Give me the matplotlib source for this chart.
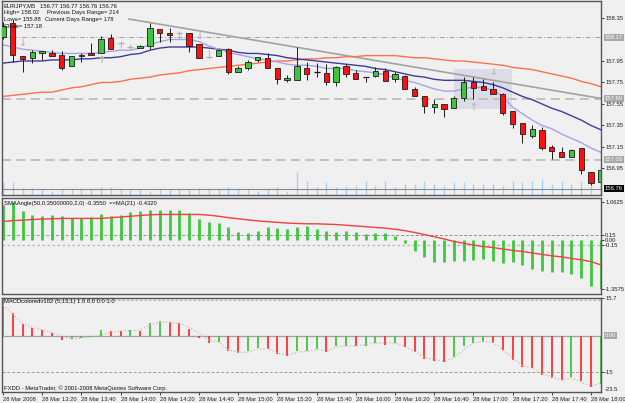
import matplotlib
matplotlib.use('Agg')
import matplotlib.pyplot as plt
import numpy as np
from matplotlib.patches import Rectangle

plt.rcParams['font.family'] = ['Liberation Sans', 'DejaVu Sans']

# ---------------- data ----------------
opens = [158.17, 158.30, 158.00, 157.98, 158.02, 158.02, 158.01, 157.90, 158.00, 158.02,
         158.02, 158.16, 158.12, 158.08, 158.07, 158.09, 158.25, 158.21, 158.21, 158.21,
         158.11, 157.99, 158.00, 158.06, 157.85, 157.88, 157.96, 157.98, 157.88, 157.77,
         157.77, 157.88, 157.85, 157.84, 157.75, 157.90, 157.84, 157.80, 157.81, 157.86,
         157.78, 157.81, 157.69, 157.62, 157.52, 157.55, 157.51, 157.61, 157.75, 157.72,
         157.69, 157.64, 157.48, 157.37, 157.25, 157.31, 157.15, 157.10, 157.06, 157.14,
         156.92, 156.82]
highs = [158.31, 158.33, 158.00, 158.05, 158.04, 158.05, 158.04, 158.00, 158.02, 158.12,
         158.18, 158.20, 158.14, 158.11, 158.10, 158.30, 158.25, 158.26, 158.23, 158.21,
         158.11, 158.05, 158.06, 158.07, 157.90, 157.96, 157.99, 158.02, 157.88, 157.82,
         158.08, 157.94, 157.93, 157.92, 157.90, 157.92, 157.87, 157.80, 157.89, 157.88,
         157.85, 157.82, 157.71, 157.62, 157.60, 157.55, 157.62, 157.80, 157.80, 157.78,
         157.75, 157.65, 157.48, 157.37, 157.35, 157.34, 157.17, 157.15, 157.13, 157.14,
         156.92, 156.94]
lows = [158.15, 157.94, 157.85, 157.93, 157.96, 158.00, 157.87, 157.90, 157.94, 158.01,
        158.02, 158.06, 158.07, 158.05, 158.07, 158.06, 158.13, 158.13, 158.16, 158.03,
        157.98, 157.97, 158.00, 157.83, 157.85, 157.87, 157.94, 157.88, 157.74, 157.75,
        157.77, 157.77, 157.80, 157.73, 157.72, 157.80, 157.78, 157.75, 157.80, 157.76,
        157.75, 157.69, 157.62, 157.47, 157.47, 157.43, 157.51, 157.58, 157.60, 157.68,
        157.64, 157.45, 157.33, 157.19, 157.23, 157.12, 157.04, 157.06, 157.06, 156.90,
        156.80, 156.82]
closes = [158.28, 158.01, 157.97, 158.03, 158.04, 158.00, 157.88, 158.00, 158.01, 158.01,
          158.15, 158.06, 158.12, 158.08, 158.09, 158.26, 158.21, 158.19, 158.21, 158.09,
          157.98, 157.99, 158.05, 157.85, 157.88, 157.94, 157.99, 157.88, 157.78, 157.79,
          157.90, 157.83, 157.85, 157.75, 157.89, 157.83, 157.78, 157.80, 157.86, 157.76,
          157.83, 157.69, 157.62, 157.53, 157.55, 157.50, 157.61, 157.75, 157.70, 157.68,
          157.64, 157.47, 157.36, 157.27, 157.32, 157.14, 157.11, 157.06, 157.12, 156.94,
          156.81, 156.94]
ghost_doji_bars = [12, 13, 18, 21]

volumes = [130, 130, 67, 67, 60, 43, 60, 60, 67, 67,
           77, 77, 60, 60, 60, 43, 60, 60, 67, 60,
           67, 67, 67, 77, 67, 60, 43, 67, 77, 43,
           230, 145, 77, 127, 77, 93, 93, 143, 93, 143,
           77, 110, 110, 143, 110, 93, 127, 127, 110, 110,
           110, 93, 143, 127, 143, 160, 110, 143, 110, 143,
           127, 93]

ma_fast = [158.10, 158.08, 158.06, 158.05, 158.04, 158.03, 158.02, 158.02, 158.02, 158.02,
           158.03, 158.04, 158.05, 158.05, 158.07, 158.10, 158.13, 158.15, 158.15, 158.15,
           158.13, 158.09, 158.06, 158.03, 158.01, 157.99, 157.97, 157.96, 157.94, 157.92,
           157.91, 157.91, 157.90, 157.88, 157.88, 157.88, 157.86, 157.85, 157.84, 157.82,
           157.79, 157.77, 157.75, 157.72, 157.69, 157.67, 157.67, 157.69, 157.71, 157.70,
           157.68, 157.62, 157.52, 157.46, 157.40, 157.35, 157.32, 157.27, 157.23, 157.19,
           157.14, 157.10]
ma_mid = [157.93, 157.94, 157.95, 157.95, 157.95, 157.96, 157.96, 157.96, 157.97, 157.97,
          157.98, 157.98, 157.99, 158.01, 158.02, 158.05, 158.07, 158.08, 158.08, 158.08,
          158.08, 158.07, 158.06, 158.05, 158.03, 158.02, 158.02, 158.01, 158.00, 157.98,
          157.97, 157.96, 157.95, 157.94, 157.93, 157.92, 157.91, 157.90, 157.88, 157.87,
          157.85, 157.83, 157.81, 157.80, 157.78, 157.77, 157.77, 157.77, 157.76, 157.75,
          157.73, 157.70, 157.66, 157.62, 157.59, 157.55, 157.51, 157.48, 157.44, 157.40,
          157.35, 157.31]
ma_slow = [157.62, 157.63, 157.64, 157.65, 157.66, 157.66, 157.68, 157.70, 157.71, 157.73,
           157.75, 157.75, 157.76, 157.78, 157.79, 157.80, 157.82, 157.83, 157.84, 157.86,
           157.87, 157.88, 157.89, 157.90, 157.91, 157.92, 157.93, 157.94, 157.95, 157.95,
           157.96, 157.97, 157.97, 157.98, 157.98, 157.99, 157.99, 158.00, 158.00, 158.00,
           158.00, 157.99, 157.98, 157.98, 157.97, 157.96, 157.95, 157.95, 157.94, 157.93,
           157.92, 157.91, 157.89, 157.88, 157.87, 157.85, 157.83, 157.81, 157.79, 157.76,
           157.74, 157.71]

trend_bars = [12.86, 61.1]
trend_prices = [158.34, 157.60]
box_bars = [46.0, 51.9]
box_prices = [157.50, 157.875]
level_prices = [158.17, 157.60, 157.03]
bid_price = 156.76
fractal_down_bars = [2, 20, 50]
fractal_down_prices = [158.12, 158.18, 157.85]
fractal_up_bars = [10, 48]
fractal_up_prices = [157.96, 157.52]

sma_angle = [0.98, 1.06, 0.81, 0.69, 0.67, 0.69, 0.67, 0.60, 0.60, 0.65,
             0.71, 0.67, 0.69, 0.79, 0.81, 0.83, 0.83, 0.83, 0.83, 0.74,
             0.57, 0.50, 0.46, 0.37, 0.23, 0.19, 0.26, 0.35, 0.32, 0.30,
             0.37, 0.39, 0.31, 0.26, 0.23, 0.25, 0.21, 0.17, 0.19, 0.19,
             0.11, -0.09, -0.30, -0.46, -0.60, -0.60, -0.58, -0.57, -0.56, -0.54,
             -0.57, -0.63, -0.60, -0.69, -0.81, -0.85, -0.90, -0.88, -0.95, -1.06,
             -1.27, -1.36]
sma_angle_ma = [0.51, 0.54, 0.55, 0.57, 0.58, 0.59, 0.60, 0.60, 0.60, 0.60,
                0.60, 0.62, 0.64, 0.66, 0.68, 0.70, 0.71, 0.71, 0.71, 0.71,
                0.71, 0.69, 0.66, 0.62, 0.59, 0.56, 0.53, 0.51, 0.49, 0.47,
                0.46, 0.45, 0.45, 0.44, 0.43, 0.41, 0.39, 0.37, 0.35, 0.33,
                0.30, 0.26, 0.21, 0.15, 0.09, 0.03, -0.04, -0.09, -0.14, -0.18,
                -0.21, -0.25, -0.29, -0.32, -0.36, -0.40, -0.44, -0.47, -0.51, -0.55,
                -0.60, -0.69]
angle_levels = [0.15, -0.15]

macd = [15.7, 9.4, 4.9, 3.2, 2.5, 1.1, -1.9, -1.4, -1.0, -0.3,
        2.5, 2.2, 2.1, 2.3, 2.2, 5.3, 6.25, 5.7, 5.3, 2.9,
        -1.0, -2.9, -2.4, -6.5, -7.2, -6.5, -4.9, -5.4, -7.5, -8.6,
        -6.5, -6.4, -5.6, -6.8, -4.4, -4.2, -4.4, -4.2, -2.8, -3.75,
        -2.8, -4.7, -6.8, -9.7, -10.4, -11.0, -9.0, -4.4, -2.8, -2.4,
        -2.8, -6.1, -10.0, -13.0, -13.5, -16.25, -17.6, -18.6, -17.4, -19.0,
        -21.4, -20.0]
macd_signal = [13.0, 9.2, 4.9, 3.5, 2.5, 1.4, -0.3, -1.25, -1.0, -0.55,
               0.4, 1.5, 2.1, 2.1, 2.5, 4.6, 5.7, 5.7, 5.3, 3.6,
               1.1, -2.0, -2.6, -5.8, -6.9, -6.9, -5.6, -5.3, -7.2, -8.2,
               -6.9, -6.5, -5.8, -6.25, -4.7, -4.2, -4.2, -3.75, -3.0, -3.0,
               -3.0, -4.4, -6.5, -9.0, -10.0, -10.7, -9.3, -5.8, -3.0, -2.4,
               -2.8, -5.6, -9.3, -12.5, -13.5, -15.8, -17.2, -18.6, -17.6, -19.3,
               -21.1, -19.7]
macd_levels = [15, -15]

time_labels = ['28 Mar 2008', '28 Mar 13:20', '28 Mar 13:40', '28 Mar 14:00',
               '28 Mar 14:20', '28 Mar 14:40', '28 Mar 15:00', '28 Mar 15:20',
               '28 Mar 15:40', '28 Mar 16:00', '28 Mar 16:20', '28 Mar 16:40',
               '28 Mar 17:00', '28 Mar 17:20', '28 Mar 17:40', '28 Mar 18:00']
time_label_bars = list(range(0, 61, 4))

price_ticks = [158.35, 157.95, 157.75, 157.55, 157.35, 157.15, 156.95]
angle_ticks = [1.0625, 0.15, 0.00, -0.15, -1.3575]
angle_tick_labels = ['1.0625', '0.15', '0.00', '-0.15', '-1.3575']
macd_ticks = [15.7, -15]
macd_tick_labels = ['15.7', '-15']
macd_min_label = -23.5

# ---------------- styling / layout ----------------
W, H = 625, 403
BG = '#f0f0f0'
FS = 4.2
GREEN = '#3ec43e'
RED = '#ff1010'
fig = plt.figure(figsize=(W / 100, H / 100), dpi=100)
fig.patch.set_facecolor(BG)


def box(x0, y0, x1, y1):
    return [x0 / W, 1 - y1 / H, (x1 - x0) / W, (y1 - y0) / H]


def ftext(x, y, s, **kw):
    kw.setdefault('fontsize', FS)
    kw.setdefault('color', '#101010')
    return fig.text(x / W, 1 - y / H, s, va='center', ha='left', **kw)


ax = fig.add_axes(box(2, 1, 601, 195))
ax1 = fig.add_axes(box(2, 198, 601, 294))
ax2 = fig.add_axes(box(2, 298, 601, 392))

# ---- volume underlay (created first so the price axis keeps its right ticks)
axv = ax.twinx()

n = len(closes)
x = np.arange(n)
o = np.array(opens); h = np.array(highs); l = np.array(lows); c = np.array(closes)
XL = (-0.1, 61.02)

for a in (ax, ax1, ax2):
    a.set_xlim(*XL)
    a.set_facecolor(BG)
    for s in a.spines.values():
        s.set_color('#555555')
        s.set_linewidth(1.0)
    a.yaxis.tick_right()
    a.tick_params(axis='y', left=False, labelleft=False, right=True, labelright=True,
                  length=2.0, width=0.6, pad=1.0, labelsize=FS, colors='#202020')
    a.tick_params(axis='x', bottom=False, labelbottom=False)

axv.set_ylim(0, 1940)
axv.set_xlim(*XL)
axv.vlines(x, 0, volumes, color='#a9d0f2', lw=1.0)
axv.set_yticks([])
axv.tick_params(right=False, left=False, labelright=False, labelleft=False)
axv.set_facecolor(BG)
for s in axv.spines.values():
    s.set_visible(False)
ax.set_zorder(axv.get_zorder() + 1)
ax.patch.set_visible(False)

# ---- main price panel
ax.set_ylim(156.703, 158.508)
ax.add_patch(Rectangle((box_bars[0], box_prices[0]), box_bars[1] - box_bars[0],
                       box_prices[1] - box_prices[0], fc='#dcdce6', ec='none', zorder=1))
ax.axhline(level_prices[0], color='#a0a0a0', lw=0.7, ls=(0, (5, 2, 1, 2)), zorder=1)
ax.axhline(level_prices[1], color='#bdbdbd', lw=1.3, ls=(0, (5, 3)), zorder=1)
ax.axhline(level_prices[2], color='#bdbdbd', lw=1.3, ls=(0, (5, 3)), zorder=1)
ax.axhline(bid_price, color='#8a8a8a', lw=0.8, zorder=1)
ax.plot(trend_bars, trend_prices, color='#a3a3a3', lw=1.2, zorder=2)
ax.plot(x, ma_slow, color='#ff7050', lw=1.0, zorder=2)
ax.plot(x, ma_mid, color='#3c3c9c', lw=1.0, zorder=2)
ax.plot(x, ma_fast, color='#a4a4e4', lw=1.0, zorder=2)

up = c > o
dn = c < o
dj = c == o
ghost = np.isin(x, ghost_doji_bars)
wick_col = np.where(ghost, '#b0b0b0', '#1a1a1a')
ax.vlines(x, l, h, colors=wick_col, lw=0.7, zorder=3)
ax.bar(x[up], (c - o)[up], bottom=o[up], width=0.55, color=GREEN,
       edgecolor='#1a1a1a', linewidth=0.6, zorder=4)
ax.bar(x[dn], (o - c)[dn], bottom=c[dn], width=0.55, color=RED,
       edgecolor='#1a1a1a', linewidth=0.6, zorder=4)
ax.hlines(o[dj], x[dj] - 0.3, x[dj] + 0.3, colors=wick_col[dj], lw=0.9, zorder=4)

for b, p in zip(fractal_down_bars, fractal_down_prices):
    ax.text(b, p, '\u2193', color='#bcbcbc', fontsize=7, fontweight='bold',
            ha='center', va='center', family='DejaVu Sans', zorder=3)
for b, p in zip(fractal_up_bars, fractal_up_prices):
    ax.text(b, p, '\u2191', color='#bcbcbc', fontsize=7, fontweight='bold',
            ha='center', va='center', family='DejaVu Sans', zorder=3)

ax.set_yticks(price_ticks)
ax.set_yticklabels(['%.2f' % v for v in price_ticks])
ytr = ax.get_yaxis_transform()
for p in level_prices:
    ax.text(1.0065, p, '%.2f' % p, transform=ytr, fontsize=FS, color='white',
            va='center', ha='left', clip_on=False,
            bbox=dict(boxstyle='square,pad=0.18', fc='#a8a8a8', ec='none'))
ax.text(1.0065, bid_price, '%.2f' % bid_price, transform=ytr, fontsize=FS,
        color='white', va='center', ha='left', clip_on=False,
        bbox=dict(boxstyle='square,pad=0.18', fc='#000000', ec='none'))

# ---- SMAAngle panel
ax1.set_ylim(-1.5, 1.1667)
ax1.vlines(x, 0, sma_angle, color='#3cc83c', lw=2.0, zorder=2)
ax1.plot(x, sma_angle_ma, color='#f04040', lw=1.0, zorder=3)
ax1.axhline(angle_levels[0], color='#909090', lw=0.7, ls=(0, (3, 2)), zorder=1)
ax1.axhline(angle_levels[1], color='#b4b4b4', lw=0.9, ls=(0, (2, 2)), zorder=1)
ax1.set_yticks(angle_ticks)
ax1.set_yticklabels(angle_tick_labels)

# ---- MACD panel
ax2.set_ylim(macd_min_label, 15.83)
mv = np.array(macd)
mcol = [GREEN if i == 0 or mv[i] > mv[i - 1] else '#ff3030' for i in range(n)]
ax2.axhline(0, color='#a0a0a0', lw=0.9, zorder=1)
ax2.axhline(macd_levels[0], color='#b0b0b0', lw=0.8, ls=(0, (2, 2)), zorder=1)
ax2.axhline(macd_levels[1], color='#9a9a9a', lw=0.7, ls=(0, (3, 2)), zorder=1)
ax2.vlines(x, 0, mv, colors=mcol, lw=1.3, zorder=2)
ax2.plot(x, macd_signal, color='#c9b6b6', lw=0.9, ls=':', zorder=3)
ax2.set_yticks(macd_ticks)
ax2.set_yticklabels(macd_tick_labels)
ytr2 = ax2.get_yaxis_transform()
ax2.text(1.0065, 0, '0.00', transform=ytr2, fontsize=FS, color='white',
         va='center', ha='left', clip_on=False,
         bbox=dict(boxstyle='square,pad=0.18', fc='#a8a8a8', ec='none'))
ax2.text(1.0065, macd_min_label, '%.1f' % macd_min_label, transform=ytr2,
         fontsize=FS, color='#202020', va='bottom', ha='left', clip_on=False)

ax2.set_xticks(time_label_bars)
ax2.set_xticklabels(time_labels, ha='left')
ax2.tick_params(axis='x', bottom=True, labelbottom=True, length=2.5, width=0.6,
                pad=1.0, labelsize=FS, colors='#202020')

# ---- texts
ftext(4, 6, 'EURJPY,M5')
ftext(40, 6, '156.77 156.77 156.76 156.76')
ftext(4, 12.5, 'High= 158.02')
ftext(47, 12.5, 'Previous Days Range= 214')
ftext(4, 19.5, 'Lows= 155.88')
ftext(45, 19.5, 'Current Days Range= 178')
ftext(4, 27, 'Close= 157.18')
ftext(4, 204, 'SMAAngle(50,0.35000000,2,0) -0.3550  ==MA(21) -0.4320')
ftext(4, 302, 'MACDcoloredv102 (5,13,1) 1.0 0.0 0.0 1.0')
ftext(4, 388, 'FXDD - MetaTrader, \u00a9 2001-2008 MetaQuotes Software Corp.')

fig.savefig('out.png', dpi=100, facecolor=BG)
